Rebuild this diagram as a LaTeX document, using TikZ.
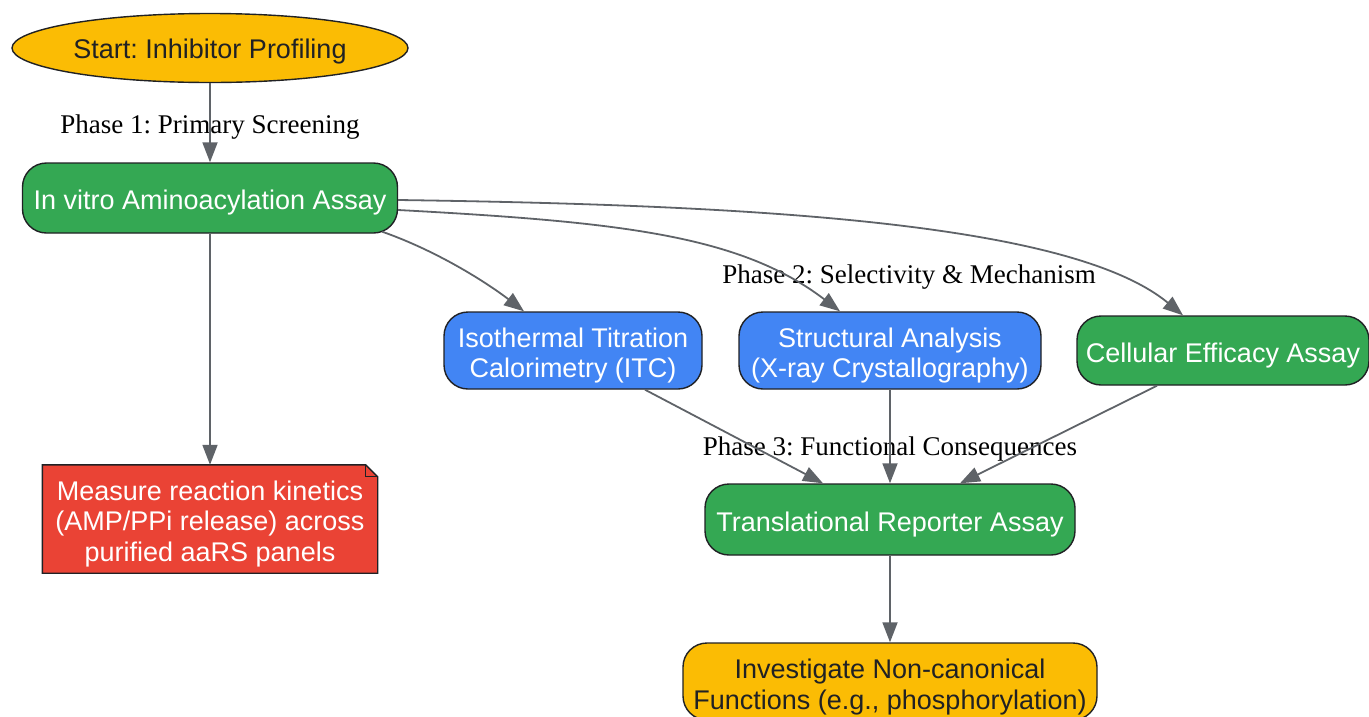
\documentclass[tikz,border=0pt]{standalone}
\usepackage{fontspec}
\setmainfont{Liberation Serif}
\setsansfont{Liberation Sans}
\frenchspacing
\usetikzlibrary{arrows.meta,shapes.geometric}
\definecolor{gyellow}{HTML}{FBBC04}
\definecolor{ggreen}{HTML}{34A853}
\definecolor{gblue}{HTML}{4285F4}
\definecolor{gred}{HTML}{EA4335}
\definecolor{gdark}{HTML}{202124}
\definecolor{ggray}{HTML}{5F6368}
\tikzset{
  box/.style={draw=gdark, line width=1.4pt, rounded corners=24pt, inner sep=0pt},
  greenbox/.style={box, fill=ggreen},
  bluebox/.style={box, fill=gblue},
  yellowbox/.style={box, fill=gyellow},
  btext/.style={align=center, inner sep=0pt, font=\sffamily\fontsize{27}{30.7}\selectfont\frenchspacing},
  phaselabel/.style={font=\rmfamily\fontsize{27}{31}\selectfont\frenchspacing, text=black, inner sep=0pt},
  edge/.style={draw=ggray, line width=1.8pt, -{Triangle[length=20pt,width=15pt]}},
}
\begin{document}
\begin{tikzpicture}[x=1pt,y=-1pt]
\useasboundingbox (0,0) rectangle (1369,716);
% shapes
\node[ellipse, draw=gdark, line width=1.4pt, fill=gyellow, inner sep=0pt,
  minimum width=396pt, minimum height=69pt] (start) at (210,48) {};
\node[greenbox, minimum width=375pt, minimum height=70pt] (invitro) at (210,198) {};
\node[inner sep=0pt, minimum width=335pt, minimum height=108pt] (note) at (210,519) {};
\node[bluebox, minimum width=258pt, minimum height=77pt] (itc) at (573,350.5) {};
\node[bluebox, minimum width=302pt, minimum height=77pt] (xray) at (890,350.5) {};
\node[greenbox, minimum width=292pt, minimum height=69pt] (cell) at (1223,350.5) {};
\node[greenbox, minimum width=370pt, minimum height=71pt] (trans) at (890,519.5) {};
\node[yellowbox, minimum width=414pt, minimum height=77pt] (invest) at (890,681.5) {};
% note outline (dog-ear)
\fill[gred] (note.north west) -- ([xshift=-12pt]note.north east) -- ([yshift=-12pt]note.north east)
  -- (note.south east) -- (note.south west) -- cycle;
\draw[gdark, line width=1.4pt, line join=miter] (note.north west) -- ([xshift=-12pt]note.north east) -- ([yshift=-12pt]note.north east)
  -- (note.south east) -- (note.south west) -- cycle;
\draw[gdark, line width=1.2pt] ([xshift=-12pt]note.north east) -- ([xshift=-12pt,yshift=-12pt]note.north east) -- ([yshift=-12pt]note.north east);
% texts
\node[btext, text=gdark] (startt) at ([yshift=-4pt]start.center) {Start: Inhibitor Profiling};
\node[btext, text=white] (invitrot) at ([yshift=-5pt]invitro.center) {In vitro Aminoacylation Assay};
\node[btext, text=white] (notet) at ([yshift=-5pt]note.center) {Measure reaction kinetics\\(AMP/PPi release) across\\purified aaRS panels};
\node[btext, text=white] (itct) at ([yshift=-5pt]itc.center) {Isothermal Titration\\Calorimetry (ITC)};
\node[btext, text=white] (xrayt) at ([yshift=-5pt]xray.center) {Structural Analysis\\(X-ray Crystallography)};
\node[btext, text=white] (cellt) at ([yshift=-5pt]cell.center) {Cellular Efficacy Assay};
\node[btext, text=white] (transt) at ([yshift=-5pt]trans.center) {Translational Reporter Assay};
\node[btext, text=gdark] (investt) at ([yshift=-5.5pt]invest.center) {Investigate Non-canonical\\Functions (e.g., phosphorylation)};
% phase labels
\node[phaselabel] (p1) at (210,127) {Phase 1: Primary Screening};
\node[phaselabel] (p2) at (909,277) {Phase 2: Selectivity \& Mechanism};
\node[phaselabel] (p3) at (890,449) {Phase 3: Functional Consequences};
% edges
\draw[edge] (start.south) -- (invitro.north);
\draw[edge] (invitro.south) -- (note.north);
\draw[edge] ([xshift=-16pt,yshift=2pt]invitro.south east) .. controls (440,252) and (490,285) .. ([xshift=-49pt]itc.north);
\draw[edge] ([yshift=-12pt]invitro.east) .. controls (620,222) and (740,235) .. ([xshift=-50pt]xray.north);
\draw[edge] ([yshift=-2pt]invitro.east) .. controls (750,205) and (1070,222) .. ([xshift=-40pt]cell.north);
\draw[edge] ([xshift=72pt]itc.south) -- ([xshift=-67pt]trans.north);
\draw[edge] (xray.south) -- (trans.north);
\draw[edge] ([xshift=-66pt]cell.south) -- ([xshift=70pt]trans.north);
\draw[edge] (trans.south) -- (invest.north);
\end{tikzpicture}
\end{document}
